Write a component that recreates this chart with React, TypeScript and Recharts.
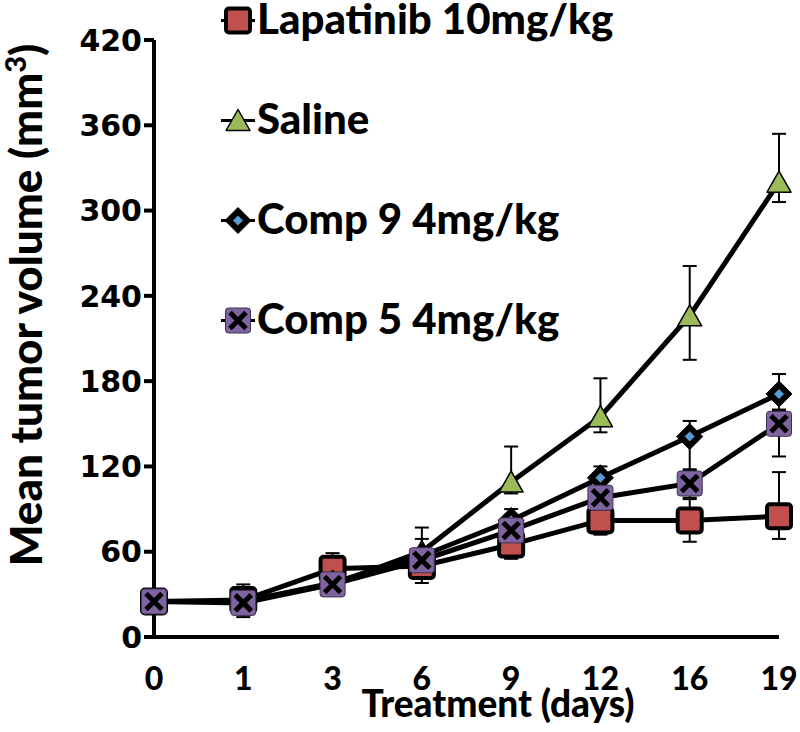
import React from 'react';
import { LineChart, Line, XAxis, YAxis, ErrorBar } from 'recharts';

const days = ['0', '1', '3', '6', '9', '12', '16', '19'];
const yTicks = [0, 60, 120, 180, 240, 300, 360, 420];

const lapatinib = [25, 26, 48, 50, 65, 82, 82, 85];
const lapatinibErr = [[3, 3], [12, 11], [10, 11], [12, 12], [10, 10], [10, 10], [15, 15], [16, 31]];
const saline = [25, 25, 37, 60, 109, 155, 226, 320];
const salineErr = [[3, 3], [4, 4], [5, 5], [8, 17], [8, 25], [11, 27], [31, 35], [14, 34]];
const comp9 = [25, 25, 38, 57, 82, 112, 141, 171];
const comp9Err = [[3, 3], [4, 4], [5, 5], [8, 12], [8, 8], [8, 8], [24, 11], [12, 14]];
const comp5 = [25, 24, 37, 54, 75, 98, 108, 150];
const comp5Err = [[3, 3], [4, 4], [5, 5], [8, 8], [8, 8], [8, 8], [10, 10], [23, 10]];

const seriesNames = ['Lapatinib 10mg/kg', 'Saline', 'Comp 9 4mg/kg', 'Comp 5 4mg/kg'];

const data = days.map((d, i) => ({
  day: d,
  lap: lapatinib[i],
  lapErr: lapatinibErr[i],
  sal: saline[i],
  salErr: salineErr[i],
  c9: comp9[i],
  c9Err: comp9Err[i],
  c5: comp5[i],
  c5Err: comp5Err[i],
}));

const RED = '#c0504d';
const GREEN = '#9bbb59';
const BLUE = '#5b9bd5';
const PURPLE = '#8064a2';

const SquareMarker = ({ cx, cy }: any) => (
  <rect x={cx - 12} y={cy - 12} width={24} height={24} rx={3} fill={RED} stroke="#000" strokeWidth={4} />
);
const TriangleMarker = ({ cx, cy }: any) => (
  <polygon
    points={`${cx},${cy - 11} ${cx + 12},${cy + 10} ${cx - 12},${cy + 10}`}
    fill={GREEN}
    stroke="#000"
    strokeWidth={1.5}
    strokeLinejoin="round"
  />
);
const DiamondMarker = ({ cx, cy }: any) => (
  <g>
    <polygon points={`${cx},${cy - 13} ${cx + 13},${cy} ${cx},${cy + 13} ${cx - 13},${cy}`} fill="#000" stroke="#000" strokeWidth={1} strokeLinejoin="round" />
    <polygon points={`${cx},${cy - 5} ${cx + 5},${cy} ${cx},${cy + 5} ${cx - 5},${cy}`} fill={BLUE} />
  </g>
);
const XMarker = ({ cx, cy }: any) => (
  <g>
    <rect x={cx - 12.5} y={cy - 12.5} width={25} height={25} rx={3} fill={PURPLE} stroke="#3f3151" strokeWidth={1} />
    <line x1={cx - 8} y1={cy - 8} x2={cx + 8} y2={cy + 8} stroke="#000" strokeWidth={5} />
    <line x1={cx + 8} y1={cy - 8} x2={cx - 8} y2={cy + 8} stroke="#000" strokeWidth={5} />
  </g>
);

const markers = [SquareMarker, TriangleMarker, DiamondMarker, XMarker];

const makeDot = (M: any) => (props: any) => {
  const { cx, cy, index } = props;
  if (cx == null || cy == null) return <g key={index} />;
  return <M key={index} cx={cx} cy={cy} />;
};

const YTitle = () => (
  <text
    x={42}
    y={305}
    transform="rotate(-90, 42, 305)"
    textAnchor="middle"
    fontFamily="Lato"
    fontWeight={900}
    fontSize={44}
    fill="#000"
  >
    Mean tumor volume (mm<tspan dy={-16} fontSize={29}>3</tspan><tspan dy={16}>)</tspan>
  </text>
);

const XTitle = () => (
  <text x={498} y={717} textAnchor="middle" fontFamily="Lato" fontWeight={900} fontSize={37} fill="#000">
    Treatment (days)
  </text>
);

const LegendOverlay = () => (
  <svg width={800} height={732} style={{ position: 'absolute', left: 0, top: 0, pointerEvents: 'none' }}>
    {seriesNames.map((name, i) => {
      const M = markers[i];
      const cy = 20.5 + i * 100;
      return (
        <g key={name}>
          <line x1={221} y1={cy} x2={255} y2={cy} stroke="#000" strokeWidth={3} />
          <M cx={238} cy={cy} />
          <text x={257} y={cy + 13} fontFamily="Lato" fontWeight={900} fontSize={42} fill="#000">
            {name}
          </text>
        </g>
      );
    })}
  </svg>
);

export default function App() {
  return (
    <div style={{ position: 'absolute', left: 0, top: 0, width: 800, height: 732, background: '#fff' }}>
      <LineChart width={800} height={732} data={data} margin={{ top: 40, right: 21, left: 0, bottom: 0 }}>
        <XAxis
          dataKey="day"
          height={95}
          tickLine={false}
          tickSize={6}
          tickMargin={24}
          axisLine={{ stroke: '#000', strokeWidth: 4 }}
          tick={{ fill: '#000', fontFamily: 'Lato', fontWeight: 900, fontSize: 32 }}
          interval={0}
          label={<XTitle />}
        />
        <YAxis
          width={154}
          domain={[0, 420]}
          ticks={yTicks}
          type="number"
          tickSize={10}
          tickMargin={2}
          tickLine={{ stroke: '#000', strokeWidth: 4 }}
          axisLine={{ stroke: '#000', strokeWidth: 4 }}
          tick={{ fill: '#000', fontFamily: 'DejaVu Sans', fontWeight: 700, fontSize: 30 }}
          label={<YTitle />}
        />
        <Line dataKey="lap" stroke="#000" strokeWidth={5} isAnimationActive={false} dot={makeDot(SquareMarker)} activeDot={false}>
          <ErrorBar dataKey="lapErr" direction="y" width={7} stroke="#000" strokeWidth={2} />
        </Line>
        <Line dataKey="sal" stroke="#000" strokeWidth={5} isAnimationActive={false} dot={makeDot(TriangleMarker)} activeDot={false}>
          <ErrorBar dataKey="salErr" direction="y" width={7} stroke="#000" strokeWidth={2} />
        </Line>
        <Line dataKey="c9" stroke="#000" strokeWidth={5} isAnimationActive={false} dot={makeDot(DiamondMarker)} activeDot={false}>
          <ErrorBar dataKey="c9Err" direction="y" width={7} stroke="#000" strokeWidth={2} />
        </Line>
        <Line dataKey="c5" stroke="#000" strokeWidth={5} isAnimationActive={false} dot={makeDot(XMarker)} activeDot={false}>
          <ErrorBar dataKey="c5Err" direction="y" width={7} stroke="#000" strokeWidth={2} />
        </Line>
      </LineChart>
      <LegendOverlay />
    </div>
  );
}
